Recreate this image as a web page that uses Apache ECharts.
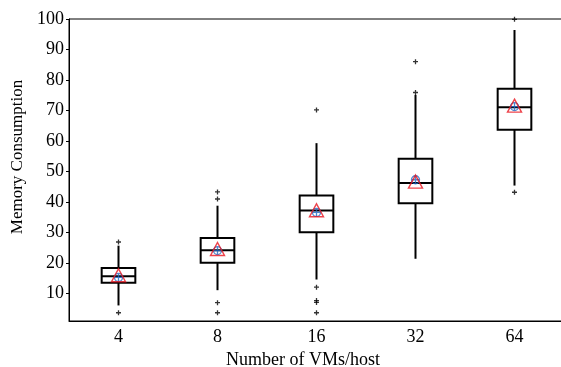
<!DOCTYPE html>
<html>
<head>
<meta charset="utf-8">
<script src="https://cdn.jsdelivr.net/npm/echarts@6/dist/echarts.min.js"></script>
<style>
  html, body { margin: 0; padding: 0; background: #fff; }
  #chart { width: 561px; height: 367px; }
</style>
</head>
<body>
<div id="chart"></div>
<script>
// Memory consumption per host, grouped by number of VMs per host
const categories = ['4', '8', '16', '32', '64'];
const whiskerLow  = [6.1, 11.1, 14.6, 21.4, 45.4];
const q1          = [13.5, 20.1, 30.1, 39.6, 63.7];
const median      = [15.7, 24.2, 37.2, 46.2, 71.1];
const q3          = [18.4, 28.2, 42.1, 54.2, 77.1];
const whiskerHigh = [25.7, 38.8, 59.3, 75.1, 96.4];
const meanTriangle = [16.0, 24.6, 37.3, 46.7, 71.6];
const meanCircle   = [15.3, 24.1, 36.6, 47.3, 71.3];
const outliers = [
  [26.9, 3.7],
  [43.3, 41.0, 7.0, 3.7],
  [70.2, 12.1, 7.7, 7.1, 3.7],
  [86.0, 75.9],
  [99.9, 43.2]
];
const yTicks = [10, 20, 30, 40, 50, 60, 70, 80, 90, 100];

const boxData = categories.map((c, i) =>
  [i, whiskerLow[i], q1[i], median[i], q3[i], whiskerHigh[i]]);
const outlierData = [];
outliers.forEach((vals, i) => vals.forEach(v => outlierData.push([i, v])));

const font = 'Liberation Serif, Times New Roman, serif';

function renderBox(params, api) {
  const x = api.value(0);
  const pLow = api.coord([x, api.value(1)]);
  const pQ1 = api.coord([x, api.value(2)]);
  const pMed = api.coord([x, api.value(3)]);
  const pQ3 = api.coord([x, api.value(4)]);
  const pHigh = api.coord([x, api.value(5)]);
  const w = api.size([1, 0])[0] * 0.34;
  const cx = pMed[0];
  const style = { stroke: '#000', lineWidth: 2, fill: null };
  return {
    type: 'group',
    children: [
      { type: 'line', shape: { x1: cx, y1: pQ3[1], x2: cx, y2: pHigh[1] }, style },
      { type: 'line', shape: { x1: cx, y1: pQ1[1], x2: cx, y2: pLow[1] }, style },
      { type: 'rect', shape: { x: cx - w / 2, y: pQ3[1], width: w, height: pQ1[1] - pQ3[1] },
        style: { stroke: '#000', lineWidth: 2, fill: 'rgba(0,0,0,0)' } },
      { type: 'line', shape: { x1: cx - w / 2, y1: pMed[1], x2: cx + w / 2, y2: pMed[1] }, style }
    ]
  };
}

const chart = echarts.init(document.getElementById('chart'), null, { renderer: 'canvas' });
chart.setOption({
  animation: false,
  backgroundColor: '#fff',
  grid: {
    left: 69, top: 19, width: 495, height: 302,
    outerBoundsMode: 'none',
    containLabel: false,
    show: true, borderColor: '#000', borderWidth: 1
  },
  xAxis: {
    type: 'category',
    data: categories,
    boundaryGap: true,
    name: 'Number of VMs/host',
    nameLocation: 'middle',
    nameGap: 30,
    nameTextStyle: { fontFamily: font, fontSize: 18, color: '#000', padding: [0, 27, 0, 0] },
    axisLine: { lineStyle: { color: '#000', width: 1 } },
    axisTick: { alignWithLabel: true, length: 3, lineStyle: { color: '#000' } },
    axisLabel: { fontFamily: font, fontSize: 18, color: '#000', margin: 7 },
    splitLine: { show: false }
  },
  yAxis: {
    type: 'value',
    min: 1,
    max: 100,
    name: 'Memory Consumption',
    nameLocation: 'middle',
    nameGap: 43,
    nameTextStyle: { fontFamily: font, fontSize: 17, color: '#000', padding: [0, 0, 0, 26] },
    axisLine: { show: true, lineStyle: { color: '#000', width: 1 } },
    axisTick: { show: true, length: 3, customValues: yTicks, lineStyle: { color: '#000' } },
    axisLabel: { fontFamily: font, fontSize: 18, color: '#000', margin: 5, customValues: yTicks },
    splitLine: { show: false }
  },
  series: [
    {
      type: 'custom',
      renderItem: renderBox,
      encode: { x: 0, y: [1, 2, 3, 4, 5] },
      data: boxData,
      z: 2
    },
    {
      type: 'scatter',
      data: outlierData,
      symbol: 'path://M0,3H6M3,0V6',
      symbolSize: 5,
      itemStyle: { color: 'rgba(0,0,0,0)', borderColor: '#000', borderWidth: 1.3 },
      z: 3
    },
    {
      type: 'scatter',
      data: meanCircle.map((v, i) => [i, v]),
      symbol: 'path://M0,5A5,5,0,1,1,10,5A5,5,0,1,1,0,5ZM5,0V10M0,5H10',
      symbolSize: 8,
      itemStyle: { color: 'rgba(0,0,0,0)', borderColor: '#1f66c2', borderWidth: 1.3 },
      z: 4
    },
    {
      type: 'scatter',
      data: meanTriangle.map((v, i) => [i, v]),
      symbol: 'triangle',
      symbolSize: [14, 13],
      itemStyle: { color: 'rgba(0,0,0,0)', borderColor: '#e8141e', borderWidth: 1.4 },
      z: 5
    }
  ]
});
</script>
</body>
</html>
